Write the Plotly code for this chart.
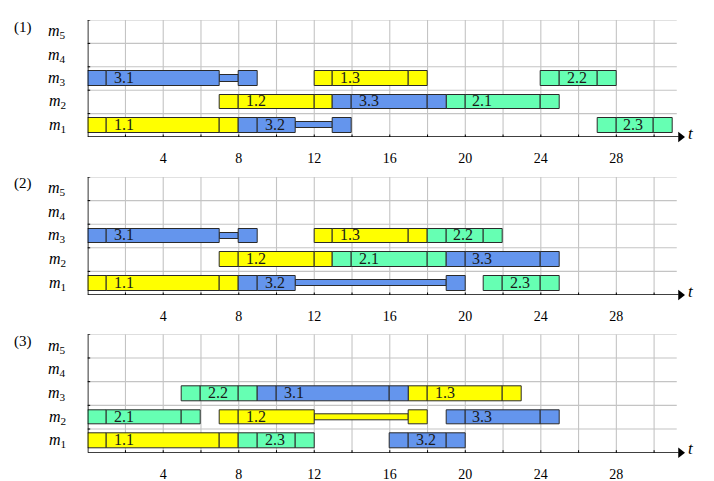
import plotly.graph_objects as go

# ---------------- data ----------------
machine_labels = ["<i>m</i><sub>1</sub>", "<i>m</i><sub>2</sub>", "<i>m</i><sub>3</sub>",
                  "<i>m</i><sub>4</sub>", "<i>m</i><sub>5</sub>"]
panel_names = ["(1)", "(2)", "(3)"]
x_tick_vals = [4, 8, 12, 16, 20, 24, 28]
x_grid_vals = [2, 4, 6, 8, 10, 12, 14, 16, 18, 20, 22, 24, 26, 28, 30]
y_grid_vals = [1, 2, 3, 4, 5]

ops = ["1.1", "1.2", "1.3", "2.1", "2.2", "2.3", "3.1", "3.2", "3.3"]

p1_machine = [1, 2, 3, 2, 3, 1, 3, 1, 2]
p1_start   = [0, 7, 12, 19, 24, 27, 0, 8, 13]
p1_proc    = [6, 4, 4, 4, 2, 2, 6, 2, 4]
p1_pause   = [0, 0, 0, 0, 0, 0, 1, 2, 0]

p2_machine = [1, 2, 3, 2, 3, 1, 3, 1, 2]
p2_start   = [0, 7, 12, 13, 18, 21, 0, 8, 19]
p2_proc    = [6, 4, 4, 4, 2, 2, 6, 2, 4]
p2_pause   = [0, 0, 0, 0, 0, 0, 1, 8, 0]

p3_machine = [1, 2, 3, 2, 3, 1, 3, 1, 2]
p3_start   = [0, 7, 17, 0, 5, 8, 9, 16, 19]
p3_proc    = [6, 4, 4, 4, 2, 2, 6, 2, 4]
p3_pause   = [0, 5, 0, 0, 0, 0, 0, 0, 0]

setup_time = 1
teardown_time = 1

job_colors = {"1": "#FFFF00", "2": "#66FFB3", "3": "#6495ED"}

panels = [
    (p1_machine, p1_start, p1_proc, p1_pause),
    (p2_machine, p2_start, p2_proc, p2_pause),
    (p3_machine, p3_start, p3_proc, p3_pause),
]

# ---------------- layout geometry ----------------
W, H = 714, 481
x0px, unit = 87.7, 18.88
xmax = 31.7
xdom = [x0px / W, (x0px + xmax * unit) / W]
tops = [20, 177, 334.3]
bottoms = [137, 295, 452.7]

FONT = "Liberation Serif"
BAR_H = 0.62
CONN_H = 0.26
GRID = "#c4c4c4"
EDGE = "#2a2a2a"

fig = go.Figure()
shapes = []
annotations = []
layout_axes = {}

for i, (mach, start, proc, pause) in enumerate(panels):
    k = i + 1
    xa = "x" if k == 1 else f"x{k}"
    ya = "y" if k == 1 else f"y{k}"

    # bars grouped by job colour
    for job in ["1", "2", "3"]:
        cy, cb, cx = [], [], []
        by, bb, bx = [], [], []
        for j, op in enumerate(ops):
            if op.split(".")[0] != job:
                continue
            yv = mach[j] - 0.5
            s = start[j]
            by.append(yv); bb.append(s); bx.append(setup_time)
            by.append(yv); bb.append(s + setup_time); bx.append(proc[j])
            t = s + setup_time + proc[j]
            if pause[j] > 0:
                cy.append(yv); cb.append(t); cx.append(pause[j])
                t += pause[j]
            by.append(yv); bb.append(t); bx.append(teardown_time)
            annotations.append(dict(
                x=s + setup_time, y=yv, xref=xa, yref=ya, text=op,
                showarrow=False, xanchor="left", yanchor="middle", xshift=5, yshift=1,
                font=dict(family=FONT, size=16, color="#1a1a1a")))
        if cx:
            fig.add_trace(go.Bar(
                x=cx, y=cy, base=cb, orientation="h", width=CONN_H,
                marker=dict(color=job_colors[job], line=dict(color=EDGE, width=1)),
                xaxis=xa, yaxis=ya, hoverinfo="skip", showlegend=False))
        fig.add_trace(go.Bar(
            x=bx, y=by, base=bb, orientation="h", width=BAR_H,
            marker=dict(color=job_colors[job], line=dict(color=EDGE, width=1)),
            xaxis=xa, yaxis=ya, hoverinfo="skip", showlegend=False))

    # arrow head of time axis
    fig.add_trace(go.Scatter(
        x=[31.4], y=[0], mode="markers", xaxis=xa, yaxis=ya,
        marker=dict(symbol="triangle-right", size=9, color="black"),
        cliponaxis=False, hoverinfo="skip", showlegend=False))

    # grid lines
    for gx in x_grid_vals:
        shapes.append(dict(type="line", xref=xa, yref=ya, x0=gx, x1=gx, y0=0, y1=5,
                           line=dict(color=GRID, width=1.1), layer="below"))
    for gy in y_grid_vals:
        shapes.append(dict(type="line", xref=xa, yref=ya, x0=0, x1=31.2, y0=gy, y1=gy,
                           line=dict(color=GRID, width=1.1), layer="below"))
    # axis lines
    shapes.append(dict(type="line", xref=xa, yref=ya, x0=0, x1=0, y0=0, y1=5,
                       line=dict(color="black", width=1.6), layer="above"))
    shapes.append(dict(type="line", xref=xa, yref=ya, x0=0, x1=31.3, y0=0, y1=0,
                       line=dict(color="black", width=1.6), layer="above"))
    # ticks crossing the axes
    for gx in x_grid_vals:
        shapes.append(dict(type="line", xref=xa, yref=ya, x0=gx, x1=gx,
                           ysizemode="pixel", yanchor=0, y0=-2.5, y1=2.5,
                           line=dict(color="black", width=1), layer="above"))
    for gy in y_grid_vals:
        shapes.append(dict(type="line", xref=xa, yref=ya, y0=gy, y1=gy,
                           xsizemode="pixel", xanchor=0, x0=-3.5, x1=2.5,
                           line=dict(color="black", width=1), layer="above"))

    # machine labels
    for r, lab in enumerate(machine_labels):
        annotations.append(dict(
            x=68 / W, y=r + 0.5, xref="paper", yref=ya, text=lab, showarrow=False,
            xanchor="right", yanchor="middle",
            font=dict(family=FONT, size=16, color="black")))
    # panel label
    annotations.append(dict(
        x=12 / W, y=1, xref="paper", yref=f"{ya} domain", text=panel_names[i],
        showarrow=False, xanchor="left", yanchor="middle", yshift=-7,
        font=dict(family=FONT, size=15, color="black")))
    # t label
    annotations.append(dict(
        x=686 / W, y=0, xref="paper", yref=ya, text="<i>t</i>", showarrow=False,
        xanchor="left", yanchor="middle", yshift=4,
        font=dict(family=FONT, size=17, color="black")))

    ydom = [1 - bottoms[i] / H, 1 - tops[i] / H]
    xkey = "xaxis" if k == 1 else f"xaxis{k}"
    ykey = "yaxis" if k == 1 else f"yaxis{k}"
    layout_axes[xkey] = dict(
        domain=xdom, range=[0, xmax], anchor=ya, showgrid=False, zeroline=False,
        showline=False, tickmode="array", tickvals=x_tick_vals,
        ticktext=[str(v) for v in x_tick_vals],
        ticks="outside", ticklen=8, tickcolor="rgba(0,0,0,0)",
        tickfont=dict(family=FONT, size=14, color="black"), fixedrange=True)
    layout_axes[ykey] = dict(
        domain=ydom, range=[0, 5], anchor=xa, showgrid=False, zeroline=False,
        showline=False, showticklabels=False, ticks="", fixedrange=True)

fig.update_layout(
    width=W, height=H, margin=dict(l=0, r=0, t=0, b=0),
    paper_bgcolor="white", plot_bgcolor="white",
    barmode="overlay", bargap=0, showlegend=False,
    shapes=shapes, annotations=annotations, **layout_axes)

fig.write_html("out.html", config={"displayModeBar": False},
               post_script="document.body.style.margin='0px';document.body.style.overflow='hidden';")
